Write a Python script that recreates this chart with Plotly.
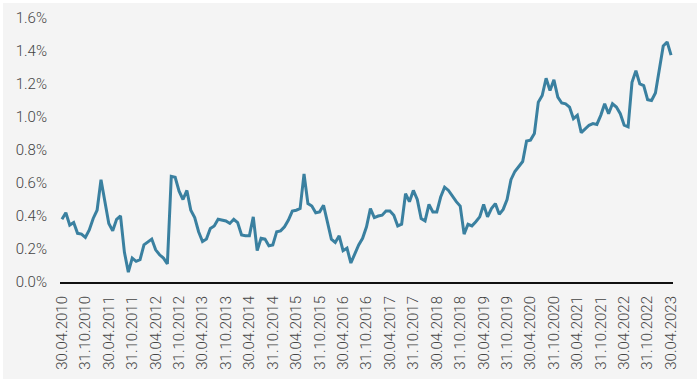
import pandas as pd
import plotly.graph_objects as go

# Monthly values (%), 30.04.2010 .. 30.04.2023
values = [
    0.38, 0.42, 0.345, 0.36, 0.295, 0.29, 0.27, 0.315, 0.385, 0.435,
    0.62, 0.475, 0.355, 0.31, 0.38, 0.40, 0.18, 0.06, 0.145, 0.125,
    0.135, 0.225, 0.24, 0.26, 0.195, 0.165, 0.145, 0.11, 0.64, 0.635,
    0.55, 0.50, 0.555, 0.435, 0.39, 0.305, 0.245, 0.26, 0.325, 0.34,
    0.38, 0.375, 0.37, 0.355, 0.38, 0.36, 0.285, 0.28, 0.28, 0.395,
    0.19, 0.265, 0.26, 0.22, 0.225, 0.305, 0.31, 0.335, 0.375, 0.43,
    0.435, 0.445, 0.655, 0.475, 0.46, 0.42, 0.425, 0.465, 0.355, 0.26,
    0.24, 0.28, 0.19, 0.205, 0.115, 0.175, 0.225, 0.265, 0.335, 0.445,
    0.39, 0.40, 0.405, 0.43, 0.43, 0.405, 0.34, 0.35, 0.535, 0.487,
    0.555, 0.50, 0.385, 0.37, 0.47, 0.425, 0.425, 0.515, 0.575, 0.555,
    0.52, 0.487, 0.46, 0.29, 0.35, 0.34, 0.365, 0.395, 0.47, 0.395,
    0.445, 0.475, 0.41, 0.44, 0.50, 0.62, 0.67, 0.70, 0.73, 0.855,
    0.86, 0.90, 1.09, 1.13, 1.235, 1.16, 1.225, 1.12, 1.085, 1.08,
    1.06, 0.99, 1.01, 0.905, 0.925, 0.95, 0.96, 0.955, 1.01, 1.08,
    1.02, 1.08, 1.06, 1.02, 0.95, 0.94, 1.21, 1.28, 1.20, 1.19,
    1.105, 1.10, 1.145, 1.275, 1.43, 1.455, 1.375,
]

dates = pd.date_range("2010-04-30", periods=len(values), freq="ME")
categories = [d.strftime("%d.%m.%Y") for d in dates]
tick_labels = categories[::6]

y_ticks = [0.0, 0.2, 0.4, 0.6, 0.8, 1.0, 1.2, 1.4, 1.6]
y_tick_text = [f"{v:.1f}%" for v in y_ticks]

fig = go.Figure()
fig.add_trace(go.Scatter(
    x=categories, y=values, mode="lines",
    line=dict(color="#3a80a0", width=3),
    hoverinfo="x+y",
))

# plot area: x 60..673, y 18..282 (px)
W, H = 700, 382
L, R, T, B = 60, 27, 18, 100
pw, ph = W - L - R, H - T - B
def px_x(p): return (p - L) / pw
def px_y(p): return (H - B - p) / ph

fig.add_shape(type="rect", xref="paper", yref="paper",
              x0=px_x(3), x1=px_x(697), y0=px_y(379), y1=px_y(3),
              fillcolor="#f4f4f4", line=dict(width=0), layer="below")

tick_font = dict(family="Roboto", size=15, color="#444444", weight=300)

fig.update_layout(
    width=W, height=H,
    margin=dict(l=L, r=R, t=T, b=B, autoexpand=False),
    paper_bgcolor="#ffffff",
    plot_bgcolor="rgba(0,0,0,0)",
    showlegend=False,
    font=tick_font,
    xaxis=dict(
        type="category", automargin=False,
        range=[-0.5, 156.5],
        tickmode="array", tickvals=tick_labels, ticktext=tick_labels,
        tickangle=-90, showgrid=False, zeroline=False,
        showline=True, linecolor="#111111", linewidth=2,
        ticks="", ticklen=0, ticklabelstandoff=6,
        tickfont=tick_font,
    ),
    yaxis=dict(
        range=[0, 1.6], automargin=False,
        tickmode="array", tickvals=y_ticks, ticktext=y_tick_text,
        showgrid=False, zeroline=False, showline=False,
        ticks="", ticklabelstandoff=12,
        tickfont=tick_font,
    ),
)

fig.write_html("out.html", config={"displayModeBar": False},
               post_script="document.body.style.margin='0';")
